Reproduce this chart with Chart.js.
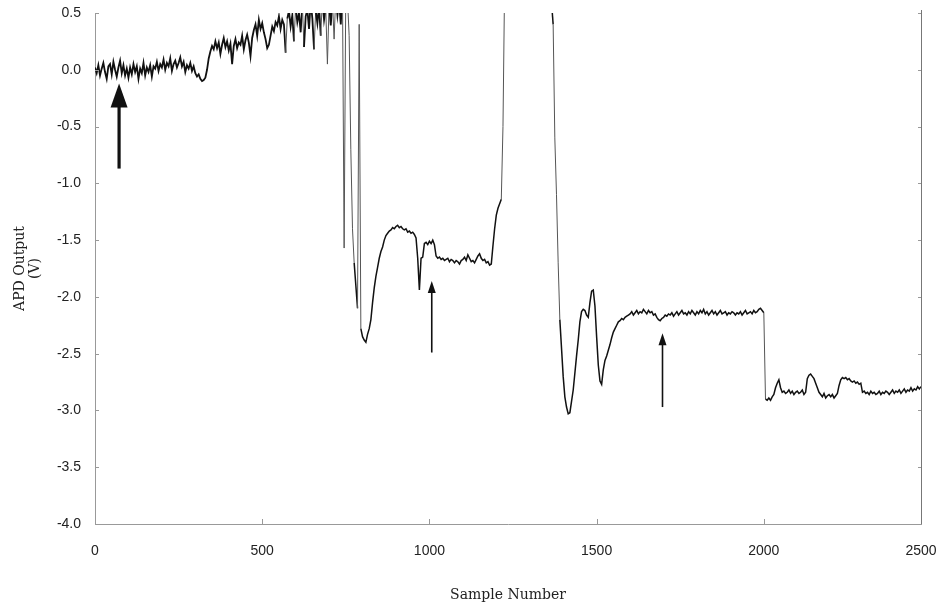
<!DOCTYPE html>
<html><head><meta charset="utf-8">
<script src="https://cdn.jsdelivr.net/npm/chart.js@4.4.1/dist/chart.umd.min.js"></script>
<style>html,body{margin:0;padding:0;background:#fff}</style>
</head><body>
<canvas id="c" width="950" height="609"></canvas>
<script>
// Sample spacing of the trace (samples between readings)
const sampleStep = 5;

// APD output (V), every 5 samples, 0..2470
const apdOutput = [
  0.02,-0.03,0.04,-0.05,0.01,0.06,-0.02,-0.08,0.03,0.05,-0.04,0.07,0.00,-0.06,0.02,0.08,-0.03,0.04,-0.05,0.01,
  -0.07,0.02,-0.04,0.05,-0.02,0.03,-0.08,0.01,-0.03,0.06,-0.05,0.02,-0.02,0.04,-0.06,0.03,0.01,0.07,-0.01,0.05,
  0.02,0.09,0.00,0.06,0.03,0.10,-0.01,0.05,0.08,0.02,0.06,0.11,0.03,0.07,-0.02,0.04,0.01,0.06,-0.01,0.03,
  -0.03,-0.06,-0.04,-0.08,-0.10,-0.09,-0.07,0.00,0.10,0.16,0.21,0.18,0.25,0.19,0.24,0.14,0.22,0.28,0.20,0.25,
  0.17,0.23,0.05,0.21,0.27,0.19,0.24,0.22,0.30,0.18,0.26,0.31,0.24,0.12,0.28,0.35,0.40,0.30,0.44,0.36,
  0.41,0.33,0.27,0.19,0.22,0.30,0.38,0.34,0.42,0.39,0.47,0.36,0.44,0.40,0.15,0.45,0.52,0.38,0.48,0.25,
  0.55,0.42,0.50,0.33,0.58,0.20,0.47,0.53,0.36,0.60,0.45,0.18,0.52,0.41,0.56,0.30,0.62,0.44,0.54,0.05,
  0.58,0.39,0.61,0.27,0.65,0.48,0.60,0.40,0.70,-1.57,0.75,0.62,0.30,-0.70,-1.40,-1.70,-1.90,-2.10,0.40,-2.28,
  -2.35,-2.38,-2.40,-2.33,-2.28,-2.20,-2.05,-1.92,-1.82,-1.74,-1.66,-1.60,-1.56,-1.50,-1.46,-1.44,-1.42,-1.41,-1.39,-1.40,
  -1.38,-1.37,-1.39,-1.38,-1.40,-1.41,-1.40,-1.43,-1.42,-1.44,-1.43,-1.45,-1.48,-1.66,-1.94,-1.66,-1.65,-1.53,-1.52,-1.54,
  -1.51,-1.53,-1.50,-1.54,-1.64,-1.66,-1.65,-1.67,-1.66,-1.68,-1.67,-1.66,-1.69,-1.67,-1.68,-1.70,-1.68,-1.69,-1.71,-1.68,
  -1.67,-1.65,-1.68,-1.63,-1.66,-1.69,-1.68,-1.70,-1.67,-1.64,-1.62,-1.66,-1.68,-1.67,-1.70,-1.69,-1.72,-1.71,-1.55,-1.40,
  -1.28,-1.22,-1.18,-1.14,-0.50,0.80,0.90,0.90,0.90,0.90,0.90,0.90,0.90,0.90,0.90,0.90,0.90,0.90,0.90,0.90,
  0.90,0.90,0.90,0.90,0.90,0.90,0.90,0.90,0.90,0.90,0.90,0.90,0.90,0.60,0.40,-0.60,-1.10,-1.70,-2.20,-2.45,
  -2.70,-2.88,-2.97,-3.03,-3.02,-2.92,-2.82,-2.67,-2.52,-2.38,-2.22,-2.13,-2.11,-2.12,-2.16,-2.18,-2.05,-1.95,-1.94,-2.08,
  -2.35,-2.60,-2.74,-2.77,-2.64,-2.56,-2.52,-2.47,-2.42,-2.36,-2.31,-2.28,-2.25,-2.22,-2.21,-2.19,-2.20,-2.18,-2.17,-2.16,
  -2.15,-2.13,-2.16,-2.14,-2.12,-2.15,-2.13,-2.14,-2.11,-2.13,-2.15,-2.12,-2.14,-2.13,-2.16,-2.15,-2.18,-2.20,-2.21,-2.19,
  -2.18,-2.16,-2.17,-2.15,-2.16,-2.14,-2.17,-2.15,-2.13,-2.16,-2.14,-2.12,-2.15,-2.14,-2.16,-2.13,-2.15,-2.12,-2.14,-2.16,
  -2.13,-2.15,-2.12,-2.14,-2.11,-2.15,-2.13,-2.16,-2.14,-2.12,-2.15,-2.13,-2.16,-2.14,-2.12,-2.15,-2.14,-2.13,-2.16,-2.14,
  -2.15,-2.13,-2.14,-2.16,-2.14,-2.15,-2.13,-2.16,-2.14,-2.12,-2.15,-2.14,-2.13,-2.15,-2.12,-2.14,-2.13,-2.11,-2.10,-2.12,
  -2.14,-2.90,-2.91,-2.89,-2.91,-2.88,-2.86,-2.80,-2.76,-2.73,-2.80,-2.84,-2.83,-2.85,-2.84,-2.82,-2.85,-2.83,-2.86,-2.84,
  -2.83,-2.85,-2.84,-2.82,-2.86,-2.84,-2.72,-2.69,-2.68,-2.70,-2.72,-2.76,-2.80,-2.84,-2.86,-2.88,-2.85,-2.89,-2.87,-2.86,
  -2.88,-2.86,-2.89,-2.87,-2.85,-2.78,-2.73,-2.71,-2.72,-2.71,-2.73,-2.72,-2.74,-2.75,-2.74,-2.76,-2.75,-2.77,-2.76,-2.84,
  -2.83,-2.85,-2.84,-2.86,-2.83,-2.85,-2.84,-2.86,-2.85,-2.83,-2.86,-2.84,-2.85,-2.83,-2.84,-2.86,-2.84,-2.82,-2.85,-2.83,
  -2.84,-2.82,-2.85,-2.83,-2.81,-2.84,-2.82,-2.83,-2.80,-2.83,-2.81,-2.82,-2.79,-2.81,-2.79
];
const sampleNumbers = apdOutput.map((_, i) => i * sampleStep);

// Axis ticks
const xTickValues = [0, 500, 1000, 1500, 2000, 2470];
const xTickLabels = ['0', '500', '1000', '1500', '2000', '2500'];
const yMin = -4.0, yMax = 0.5, yStep = 0.5;

// Annotation arrows (sample, tip value, tail value)
const arrowSamples = [72, 1007, 1697];
const arrowTips = [-0.12, -1.86, -2.32];
const arrowTails = [-0.87, -2.49, -2.97];
const arrowHeavy = [true, false, false];

const points = sampleNumbers.map((s, i) => ({x: s, y: apdOutput[i]}));

const framePlugin = {
  id: 'frame',
  afterDatasetsDraw(chart) {
    const {ctx, chartArea: a, scales: {x, y}} = chart;
    ctx.save();
    ctx.strokeStyle = '#777';
    ctx.lineWidth = 1;
    ctx.beginPath();
    ctx.moveTo(a.right + 0.5, a.top - 3);
    ctx.lineTo(a.right + 0.5, a.bottom);
    ctx.stroke();
    ctx.strokeStyle = '#999';
    y.ticks.forEach(t => {
      const py = Math.round(y.getPixelForValue(t.value)) + 0.5;
      ctx.beginPath();
      ctx.moveTo(a.left, py); ctx.lineTo(a.left + 4, py);
      ctx.moveTo(a.right - 3, py); ctx.lineTo(a.right, py);
      ctx.stroke();
    });
    x.ticks.forEach((t, i) => {
      if (i === 0 || i === x.ticks.length - 1) return;
      const px = Math.round(x.getPixelForValue(t.value)) + 0.5;
      ctx.beginPath();
      ctx.moveTo(px, a.bottom); ctx.lineTo(px, a.bottom - 5);
      ctx.stroke();
    });
    ctx.fillStyle = '#111';
    ctx.strokeStyle = '#111';
    arrowSamples.forEach((s, i) => {
      const px = x.getPixelForValue(s);
      const tip = y.getPixelForValue(arrowTips[i]);
      const tail = y.getPixelForValue(arrowTails[i]);
      const heavy = arrowHeavy[i];
      const headLen = heavy ? 24 : 12;
      const headHalf = heavy ? 8.5 : 4;
      ctx.lineWidth = heavy ? 3.2 : 1.6;
      ctx.beginPath();
      ctx.moveTo(px, tail);
      ctx.lineTo(px, tip + headLen - 1);
      ctx.stroke();
      ctx.beginPath();
      ctx.moveTo(px, tip);
      ctx.lineTo(px - headHalf, tip + headLen);
      ctx.lineTo(px + headHalf, tip + headLen);
      ctx.closePath();
      ctx.fill();
    });
    ctx.restore();
  }
};

const noPad = s => { s.paddingTop = 0; s.paddingBottom = 0; s.paddingLeft = 0; s.paddingRight = 0; };

new Chart(document.getElementById('c'), {
  type: 'line',
  data: {
    datasets: [{
      data: points,
      borderColor: '#111',
      borderWidth: 1.4,
      pointRadius: 0,
      tension: 0,
      fill: false,
      segment: {
        borderColor: c => Math.abs(c.p1.parsed.y - c.p0.parsed.y) > 0.3 ? '#555' : '#111',
        borderWidth: c => Math.abs(c.p1.parsed.y - c.p0.parsed.y) > 0.3 ? 1 : (c.p0.parsed.x < 760 ? 1.8 : 1.5)
      }
    }]
  },
  options: {
    responsive: false,
    animation: false,
    devicePixelRatio: 1,
    parsing: false,
    layout: {padding: {top: 13, right: 29, left: 0, bottom: 0}},
    plugins: {legend: {display: false}, tooltip: {enabled: false}},
    scales: {
      x: {
        type: 'linear',
        min: 0,
        max: 2470,
        afterFit(s) { s.height = 85; noPad(s); },
        afterBuildTicks(s) { s.ticks = xTickValues.map(v => ({value: v})); },
        grid: {display: true, drawOnChartArea: false, drawTicks: false},
        border: {display: true, color: '#999', dash: [2, 2], width: 1},
        ticks: {
          autoSkip: false,
          maxRotation: 0,
          padding: 19,
          color: '#222',
          font: {family: '"Liberation Sans", Arial, sans-serif', size: 14},
          callback: (v, i) => xTickLabels[i]
        },
        title: {
          display: true,
          text: 'Sample Number',
          color: '#222',
          font: {family: '"DejaVu Serif", serif', size: 14, lineHeight: 1.2},
          padding: {top: 0, bottom: 5}
        }
      },
      y: {
        min: yMin,
        max: yMax,
        afterFit(s) { s.width = 95; noPad(s); },
        grid: {display: true, drawOnChartArea: false, drawTicks: false},
        border: {display: true, color: '#999', dash: [2, 2], width: 1},
        ticks: {
          stepSize: yStep,
          padding: 14,
          color: '#222',
          font: {family: '"Liberation Sans", Arial, sans-serif', size: 14},
          callback: v => (Math.round(v * 10) / 10).toFixed(1)
        },
        title: {
          display: true,
          text: ['APD Output', '(V)'],
          color: '#222',
          font: {family: '"DejaVu Serif", serif', size: 14, lineHeight: 1.07},
          padding: {top: 12.5, bottom: 0}
        }
      }
    }
  },
  plugins: [framePlugin]
});
</script>
</body></html>
